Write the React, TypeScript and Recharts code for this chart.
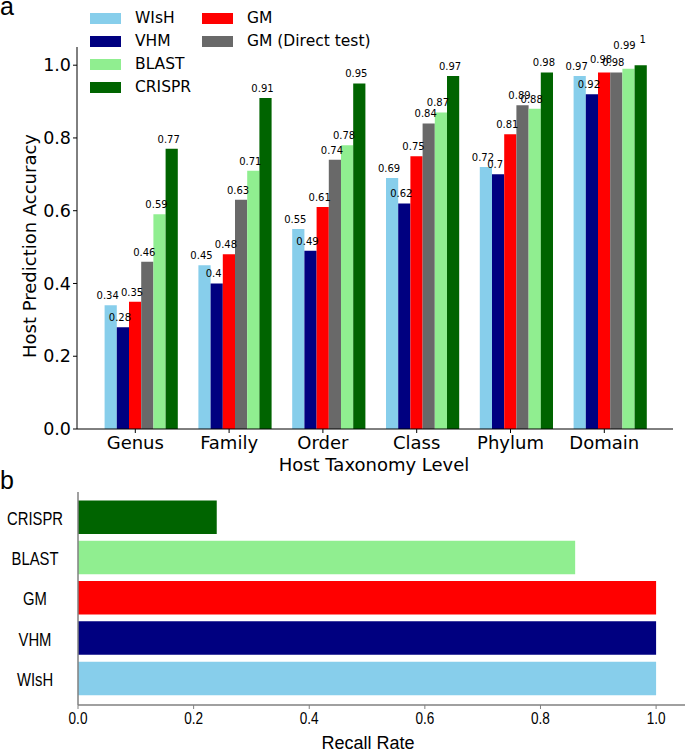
import { BarChart, Bar, XAxis, YAxis, Legend, LabelList, Cell } from "recharts";

// panel a: host prediction accuracy per taxonomy level
const levels = ["Genus", "Family", "Order", "Class", "Phylum", "Domain"];
const wish = [0.34, 0.45, 0.55, 0.69, 0.72, 0.97];
const vhm = [0.28, 0.4, 0.49, 0.62, 0.7, 0.92];
const gm = [0.35, 0.48, 0.61, 0.75, 0.81, 0.98];
const gmDirect = [0.46, 0.63, 0.74, 0.84, 0.89, 0.98];
const blast = [0.59, 0.71, 0.78, 0.87, 0.88, 0.99];
const crispr = [0.77, 0.91, 0.95, 0.97, 0.98, 1];
const accuracyTicks = [0, 0.2, 0.4, 0.6, 0.8, 1.0];

// panel b: recall rate per tool (top to bottom)
const recallTools = ["CRISPR", "BLAST", "GM", "VHM", "WIsH"];
const recallRates = [0.24, 0.86, 1.0, 1.0, 1.0];
const recallTicks = [0, 0.2, 0.4, 0.6, 0.8, 1.0];

const series = [
  { key: "wish", name: "WIsH", color: "#87ceeb" },
  { key: "vhm", name: "VHM", color: "#000080" },
  { key: "gm", name: "GM", color: "#ff0000" },
  { key: "gmDirect", name: "GM (Direct test)", color: "#696969" },
  { key: "blast", name: "BLAST", color: "#90ee90" },
  { key: "crispr", name: "CRISPR", color: "#006400" },
];

const legendColumns = [
  ["WIsH", "VHM", "BLAST", "CRISPR"],
  ["GM", "GM (Direct test)"],
];

// the crowded Domain labels were nudged apart in the original figure
const labelNudge: Record<string, [number, number]> = {
  "gm:5": [0, -3],
  "blast:5": [-1, -14],
  "crispr:5": [5, -16],
};

const SANS = "'DejaVu Sans', sans-serif";
const ARIAL = "'Liberation Sans', Arial, sans-serif";

const colorOf: Record<string, string> = {};
series.forEach(s => { colorOf[s.name] = s.color; });

const accData = levels.map((level, i) => ({
  level,
  wish: wish[i],
  vhm: vhm[i],
  gm: gm[i],
  gmDirect: gmDirect[i],
  blast: blast[i],
  crispr: crispr[i],
}));

const recallData = recallTools.map((tool, i) => ({ tool, rate: recallRates[i] }));

const LevelTick = (props: any) => {
  const { x, y, payload } = props;
  const tx = x - 6.2;
  return (
    <g>
      <line x1={tx} x2={tx} y1={y} y2={y + 4} stroke="#000" />
      <text x={tx} y={y + 19.5} textAnchor="middle" fontFamily={SANS} fontSize={18} fill="#000">
        {payload.value}
      </text>
    </g>
  );
};

const ToolTick = (props: any) => {
  const { y, payload } = props;
  return (
    <g transform={`translate(35, ${y})`}>
      <text transform="scale(0.78, 1)" y={7} textAnchor="middle" fontFamily={ARIAL} fontSize={19} fill="#000">
        {payload.value}
      </text>
    </g>
  );
};

const RecallTick = (props: any) => {
  const { x, y, payload } = props;
  return (
    <g transform={`translate(${x}, ${y})`}>
      <text transform="scale(0.8, 1)" y={12.5} textAnchor="middle" fontFamily={ARIAL} fontSize={17} fill="#000">
        {Number(payload.value).toFixed(1)}
      </text>
    </g>
  );
};

const makeValueLabel = (key: string) => (props: any) => {
  const { x, y, width, value, index } = props;
  const [dx, dy] = labelNudge[`${key}:${index}`] || [0, 0];
  return (
    <text
      x={x + width / 2 - 3 + dx}
      y={y - 6 + dy}
      textAnchor="middle"
      fontFamily={SANS}
      fontSize={10}
      fill="#000"
    >
      {String(value)}
    </text>
  );
};

const renderLegend = (props: any) => {
  const payload = props.payload || [];
  const find = (name: string) => payload.find((p: any) => p.value === name);
  const colX = [90, 202];
  return (
    <div style={{ position: "relative", width: 400, height: 100 }}>
      {legendColumns.map((col, ci) =>
        col.map((name, ri) => {
          const entry = find(name);
          const cy = 18 + ri * 23;
          return (
            <div
              key={name}
              style={{ position: "absolute", left: colX[ci], top: cy - 10, height: 20, display: "flex", alignItems: "center", whiteSpace: "nowrap" }}
            >
              <span style={{ display: "inline-block", width: 31, height: 11, background: entry ? entry.color : colorOf[name] }} />
              <span style={{ marginLeft: 14, fontFamily: SANS, fontSize: 15.5, color: "#000" }}>{name}</span>
            </div>
          );
        })
      )}
    </div>
  );
};

export default function App() {
  return (
    <div style={{ position: "absolute", left: 0, top: 0, width: 685, height: 751, overflow: "hidden", background: "#fff" }}>
      <div style={{ position: "absolute", left: 0, top: -6, fontFamily: ARIAL, fontSize: 25, lineHeight: 1 }}>a</div>
      <div style={{ position: "absolute", left: 0, top: 468, fontFamily: ARIAL, fontSize: 25, lineHeight: 1 }}>b</div>

      <div style={{ position: "absolute", left: 0, top: 0 }}>
        <BarChart
          width={685}
          height={480}
          data={accData}
          margin={{ top: 47, right: 12, bottom: 0, left: 0 }}
          barGap={0}
          barSize={12.2}
        >
          <XAxis
            dataKey="level"
            interval={0}
            padding={{ left: 17.6, right: 15.6 }}
            height={51}
            axisLine={{ stroke: "#000" }}
            tickLine={false}
            tickSize={0}
            tickMargin={0}
            tick={<LevelTick />}
            label={() => (
              <text x={374} y={471} textAnchor="middle" fontFamily={SANS} fontSize={18} fill="#000">
                Host Taxonomy Level
              </text>
            )}
          />
          <YAxis
            width={77}
            type="number"
            domain={[0, 1.05]}
            ticks={accuracyTicks}
            tickFormatter={(v: number) => v.toFixed(1)}
            axisLine={{ stroke: "#000" }}
            tickLine={{ stroke: "#000" }}
            tickSize={4}
            tickMargin={2}
            tick={{ fontFamily: SANS, fontSize: 17.5, fill: "#000" }}
            label={() => (
              <text
                x={36}
                y={246}
                transform="rotate(-90 36 246)"
                textAnchor="middle"
                fontFamily={SANS}
                fontSize={18}
                fill="#000"
              >
                Host Prediction Accuracy
              </text>
            )}
          />
          <Legend
            layout="vertical"
            align="center"
            verticalAlign="middle"
            content={renderLegend}
            wrapperStyle={{ position: "absolute", left: 0, top: 0, width: 400, height: 100 }}
          />
          {series.map(s => (
            <Bar key={s.key} dataKey={s.key} name={s.name} fill={s.color} isAnimationActive={false}>
              <LabelList dataKey={s.key} content={makeValueLabel(s.key)} />
            </Bar>
          ))}
        </BarChart>
      </div>

      <div style={{ position: "absolute", left: 0, top: 470 }}>
        <BarChart
          layout="vertical"
          width={685}
          height={290}
          data={recallData}
          margin={{ top: 22, right: 0, bottom: 0, left: 0 }}
          barSize={33.5}
        >
          <XAxis
            type="number"
            domain={[0, 1.05]}
            ticks={recallTicks}
            height={55}
            axisLine={{ stroke: "#808080", strokeWidth: 1.5 }}
            tickLine={{ stroke: "#808080" }}
            tickSize={4}
            tickMargin={2}
            tick={<RecallTick />}
            label={() => (
              <text x={368} y={279} textAnchor="middle" fontFamily={ARIAL} fontSize={18} fill="#000">
                Recall Rate
              </text>
            )}
          />
          <YAxis
            type="category"
            dataKey="tool"
            width={78}
            padding={{ top: 5.4, bottom: 6 }}
            axisLine={{ stroke: "#808080", strokeWidth: 1.5 }}
            tickLine={false}
            tick={<ToolTick />}
          />
          <Bar dataKey="rate" isAnimationActive={false}>
            {recallData.map(d => (
              <Cell key={d.tool} fill={colorOf[d.tool]} />
            ))}
          </Bar>
        </BarChart>
      </div>
    </div>
  );
}
